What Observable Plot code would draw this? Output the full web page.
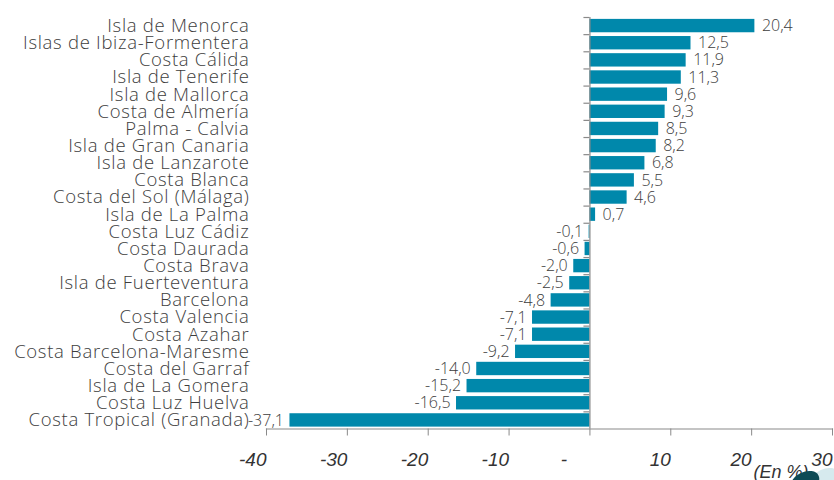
<!DOCTYPE html>
<html>
<head>
<meta charset="utf-8">
<script src="https://cdn.jsdelivr.net/npm/d3@7"></script>
<script src="https://cdn.jsdelivr.net/npm/@observablehq/plot@0.6"></script>
<style>
  html, body { margin: 0; padding: 0; background: #fff; }
  #wrap { position: relative; width: 834px; height: 480px; overflow: hidden; }
  #logo { position: absolute; left: 790px; top: 472px; width: 30px; height: 20px; border-radius: 50%;
          background: #0d4a55; transform: rotate(-25deg); }
  #logo2 { position: absolute; left: 810px; top: 469px; width: 30px; height: 20px; border-radius: 50%;
          background: #d6eaee; transform: rotate(-25deg); }
  .ylabels text { letter-spacing: 0.7px; }
</style>
</head>
<body>
<div id="wrap"><div id="logo2"></div><div id="logo"></div></div>
<script>
const categories = [
  "Isla de Menorca", "Islas de Ibiza-Formentera", "Costa Cálida", "Isla de Tenerife",
  "Isla de Mallorca", "Costa de Almería", "Palma - Calvia", "Isla de Gran Canaria",
  "Isla de Lanzarote", "Costa Blanca", "Costa del Sol (Málaga)", "Isla de La Palma",
  "Costa Luz Cádiz", "Costa Daurada", "Costa Brava", "Isla de Fuerteventura",
  "Barcelona", "Costa Valencia", "Costa Azahar", "Costa Barcelona-Maresme",
  "Costa del Garraf", "Isla de La Gomera", "Costa Luz Huelva", "Costa Tropical (Granada)"
];
const values = [
  20.4, 12.5, 11.9, 11.3, 9.6, 9.3, 8.5, 8.2, 6.8, 5.5, 4.6, 0.7,
  -0.1, -0.6, -2.0, -2.5, -4.8, -7.1, -7.1, -9.2, -14.0, -15.2, -16.5, -37.1
];
const xTicks = [-40, -30, -20, -10, 0, 10, 20, 30];
const unitLabel = "(En %)";

const data = categories.map((c, i) => ({region: c, value: values[i]}));
const fmt = v => v.toFixed(1).replace(".", ",");

const W = 834, H = 480, mT = 17, mB = 51.5, mL = 266, mR = 2;
const step = (H - mT - mB) / categories.length;
const light = "'Open Sans', 'Liberation Sans', Arial, sans-serif";
const axisFont = "'Liberation Sans', Arial, sans-serif";
const txt = "#3d3d3d";
const grey = "#8a8a8a";

const chart = Plot.plot({
  width: W, height: H,
  marginTop: mT, marginBottom: mB, marginLeft: mL, marginRight: mR,
  style: {fontFamily: light, color: txt, background: "transparent", overflow: "visible"},
  x: {domain: [-40, 30], round: false, label: null},
  y: {domain: categories, paddingInner: 0.22, paddingOuter: 0.11, round: false, label: null},
  marks: [
    Plot.barX(data, {x: "value", y: "region", fill: "#0088ab"}),
    Plot.ruleX([0], {stroke: grey, strokeWidth: 1.2}),
    Plot.ruleY(categories, {y: d => d, x1: 0, x2: 0, insetLeft: -6, dy: -step / 2, stroke: grey, strokeWidth: 1.2}),
    Plot.frame({anchor: "bottom", stroke: grey, strokeWidth: 1.2}),
    Plot.axisX({ticks: xTicks, tickSize: 7, tickPadding: 16, stroke: grey, fill: "#333", label: null,
      tickFormat: d => d === 0 ? "-\u2003\u2009" : String(d),
      textAnchor: "end", fontSize: 19, fontStyle: "italic", fontFamily: axisFont}),
    Plot.axisY({tickSize: 0, tickPadding: 17, fontSize: 18.5, fontWeight: 300, fill: txt, label: null,
      className: "ylabels"}),
    Plot.text(data.filter(d => d.value >= 0), {x: "value", y: "region", text: d => fmt(d.value),
      textAnchor: "start", dx: 7, fontSize: 16, fontWeight: 300, fill: txt}),
    Plot.text(data.filter(d => d.value < 0), {x: "value", y: "region", text: d => fmt(d.value),
      textAnchor: "end", dx: -6, fontSize: 16, fontWeight: 300, fill: txt}),
    Plot.text([unitLabel], {frameAnchor: "bottom-right", text: d => d, textAnchor: "end",
      dx: -24, dy: 49, fontSize: 18, fontStyle: "italic", fontFamily: axisFont, fill: "#333"})
  ]
});
document.getElementById("wrap").prepend(chart);
</script>
</body>
</html>
